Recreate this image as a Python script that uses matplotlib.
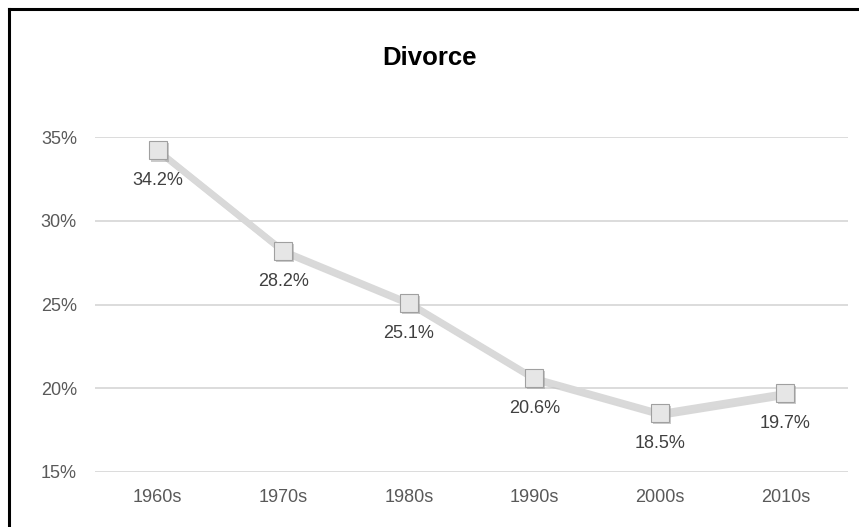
import matplotlib
matplotlib.use('Agg')
import matplotlib.pyplot as plt
import matplotlib.patheffects as pe
from matplotlib.lines import Line2D
from matplotlib.ticker import FuncFormatter

decades = ['1960s', '1970s', '1980s', '1990s', '2000s', '2010s']
divorce = [34.2, 28.2, 25.1, 20.6, 18.5, 19.7]
yticks = [15, 20, 25, 30, 35]

plt.rcParams['font.family'] = ['Liberation Sans', 'DejaVu Sans']

fig = plt.figure(figsize=(8.59, 5.27), dpi=100)
ax = fig.add_axes([0.1106, 0.1044, 0.8766, 0.6356])

x = list(range(len(decades)))
ax.plot(x, divorce, color='#d9d9d9', lw=4.6, solid_capstyle='round',
        path_effects=[pe.SimpleLineShadow(offset=(1.5, -1.5), shadow_color='#bfbfbf', alpha=0.6),
                      pe.Normal()], zorder=3)
ax.plot(x, divorce, ls='none', marker='s', ms=13, mfc='#e6e6e6', mec='#a0a0a0', mew=0.8,
        path_effects=[pe.SimplePatchShadow(offset=(1.5, -1.5), shadow_rgbFace='#999999', alpha=0.5),
                      pe.Normal()], zorder=4)

for xi, v in zip(x, divorce):
    ax.annotate(f'{v:.1f}%', (xi, v), xytext=(0, -22), textcoords='offset points',
                ha='center', va='center', fontsize=13, color='#404040')

ax.set_xlim(-0.5, len(decades) - 0.5)
ax.set_ylim(15, 35)
ax.set_xticks(x)
ax.set_xticklabels(decades)
ax.set_yticks(yticks)
ax.yaxis.set_major_formatter(FuncFormatter(lambda v, p: f'{v:.0f}%'))
ax.tick_params(length=0, labelsize=13, labelcolor='#595959', pad=13)
ax.tick_params(axis='x', pad=12)
ax.grid(axis='y', color='#d9d9d9', lw=1.3)
ax.set_axisbelow(True)
for s in ax.spines.values():
    s.set_visible(False)

fig.text(0.5, 1 - 58 / 527, 'Divorce', ha='center', va='center', fontsize=18.5, fontweight='bold')

# black frame on left and top
fig.add_artist(Line2D([8.5 / 859, 8.5 / 859], [0, 1 - 9 / 527], color='black', lw=2.2))
fig.add_artist(Line2D([8.5 / 859, 1], [1 - 9 / 527, 1 - 9 / 527], color='black', lw=2.2))

fig.savefig('out.png', dpi=100)
